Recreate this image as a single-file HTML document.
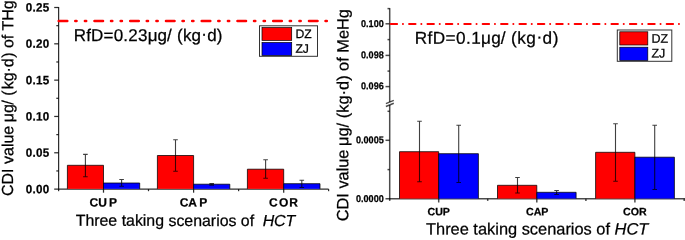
<!DOCTYPE html>
<html lang="en"><head><meta charset="utf-8"><title>CDI value of THg and MeHg</title>
<style>html,body{margin:0;padding:0;background:#fff;overflow:hidden}svg{display:block}text{font-family:'Liberation Sans', Arial, sans-serif;fill:#000;stroke:#000;stroke-width:.25px}.b{font-weight:bold}.ax{stroke:#000;stroke-opacity:.82;stroke-width:1.25;fill:none}.rp .ax{stroke-opacity:.7;stroke-width:1.5}.r{fill:#f00;stroke:#000;stroke-width:.7}.u{fill:#00f;stroke:#000;stroke-width:.7}.o{stroke:#000;stroke-width:.75;fill:none}.e{stroke:#000;stroke-opacity:.75;stroke-width:1.1;fill:none}</style></head><body>
<svg width="685" height="240" viewBox="0 0 685 240">
<rect width="685" height="240" fill="#fff"/>
<line class="ax" x1="54.20" y1="189.10" x2="328.60" y2="189.10"/>
<rect fill="#f00" x="67.40" y="165.30" width="36.10" height="23.55"/>
<path class="o" d="M67.40 188.85V165.30H103.50V188.85"/>
<rect fill="#00f" x="103.50" y="183.00" width="36.20" height="5.85"/>
<path class="o" d="M103.50 188.85V183.00H139.70V188.85"/>
<rect fill="#f00" x="157.40" y="155.50" width="36.20" height="33.35"/>
<path class="o" d="M157.40 188.85V155.50H193.60V188.85"/>
<rect fill="#00f" x="193.60" y="184.20" width="36.20" height="4.65"/>
<path class="o" d="M193.60 188.85V184.20H229.80V188.85"/>
<rect fill="#f00" x="247.40" y="169.20" width="36.30" height="19.65"/>
<path class="o" d="M247.40 188.85V169.20H283.70V188.85"/>
<rect fill="#00f" x="283.70" y="183.70" width="36.30" height="5.15"/>
<path class="o" d="M283.70 188.85V183.70H320.00V188.85"/>
<path class="e" d="M85.40 154.40V176.70M83.10 154.40H87.70M83.10 176.70H87.70"/>
<path class="e" d="M121.60 179.50V186.30M119.30 179.50H123.90M119.30 186.30H123.90"/>
<path class="e" d="M175.50 139.70V171.30M173.20 139.70H177.80M173.20 171.30H177.80"/>
<path class="e" d="M211.70 183.60V185.10M209.40 183.60H214.00M209.40 185.10H214.00"/>
<path class="e" d="M265.60 159.70V178.30M263.30 159.70H267.90M263.30 178.30H267.90"/>
<path class="e" d="M301.80 180.30V187.50M299.50 180.30H304.10M299.50 187.50H304.10"/>
<line class="ax" x1="58.60" y1="7.00" x2="58.60" y2="189.60"/>
<line class="ax" x1="54.20" y1="7.50" x2="58.60" y2="7.50"/>
<line class="ax" x1="56.30" y1="25.66" x2="58.60" y2="25.66"/>
<text transform="translate(49.40 11.55) rotate(0.05) scale(0.96 1)" font-size="12.1" class="b" text-anchor="end" letter-spacing="0.3" stroke-width="0.1">0.25</text>
<line class="ax" x1="54.20" y1="43.82" x2="58.60" y2="43.82"/>
<line class="ax" x1="56.30" y1="61.98" x2="58.60" y2="61.98"/>
<text transform="translate(49.40 47.87) rotate(0.05) scale(0.96 1)" font-size="12.1" class="b" text-anchor="end" letter-spacing="0.3" stroke-width="0.1">0.20</text>
<line class="ax" x1="54.20" y1="80.14" x2="58.60" y2="80.14"/>
<line class="ax" x1="56.30" y1="98.30" x2="58.60" y2="98.30"/>
<text transform="translate(49.40 84.19) rotate(0.05) scale(0.96 1)" font-size="12.1" class="b" text-anchor="end" letter-spacing="0.3" stroke-width="0.1">0.15</text>
<line class="ax" x1="54.20" y1="116.46" x2="58.60" y2="116.46"/>
<line class="ax" x1="56.30" y1="134.62" x2="58.60" y2="134.62"/>
<text transform="translate(49.40 120.51) rotate(0.05) scale(0.96 1)" font-size="12.1" class="b" text-anchor="end" letter-spacing="0.3" stroke-width="0.1">0.10</text>
<line class="ax" x1="54.20" y1="152.78" x2="58.60" y2="152.78"/>
<line class="ax" x1="56.30" y1="170.94" x2="58.60" y2="170.94"/>
<text transform="translate(49.40 156.83) rotate(0.05) scale(0.96 1)" font-size="12.1" class="b" text-anchor="end" letter-spacing="0.3" stroke-width="0.1">0.05</text>
<text transform="translate(49.40 193.15) rotate(0.05) scale(0.96 1)" font-size="12.1" class="b" text-anchor="end" letter-spacing="0.3" stroke-width="0.1">0.00</text>
<line class="ax" x1="103.50" y1="189.10" x2="103.50" y2="192.70"/>
<line class="ax" x1="193.60" y1="189.10" x2="193.60" y2="192.70"/>
<line class="ax" x1="283.70" y1="189.10" x2="283.70" y2="192.70"/>
<line class="ax" x1="58.60" y1="189.10" x2="58.60" y2="191.20"/>
<line class="ax" x1="148.50" y1="189.10" x2="148.50" y2="191.20"/>
<line class="ax" x1="238.60" y1="189.10" x2="238.60" y2="191.20"/>
<line class="ax" x1="328.60" y1="189.10" x2="328.60" y2="191.20"/>
<line x1="58.7" y1="21.05" x2="327" y2="21.05" stroke="#f00" stroke-width="2.5" stroke-linecap="round" stroke-dasharray="8.6 7.95 1.3 8.35 1.3 8.25"/>
<text transform="translate(73.70 41.00) rotate(0.05)" font-size="17"><tspan x="0.00" letter-spacing="0.2">RfD=0.23</tspan><tspan x="74.00">μg/ </tspan><tspan x="103.30" letter-spacing="0.22">(kg<tspan dy="-1.5">·</tspan><tspan dy="1.5">d)</tspan></tspan></text>
<rect x="259.5" y="25.8" width="58" height="30.5" fill="#fff" stroke="#333" stroke-width="1"/>
<rect class="r" x="262" y="27.6" width="29.7" height="12.8"/>
<rect class="u" x="262" y="42.5" width="29.7" height="12.9"/>
<text transform="translate(295.40 38.00) rotate(0.05)" font-size="12.2" text-anchor="start">DZ</text>
<text transform="translate(295.40 52.70) rotate(0.05)" font-size="12.2" text-anchor="start">ZJ</text>
<text transform="translate(89.5 206.6) rotate(0.05)" x="0.0 8.7 19.5" font-size="12" class="b">CUP</text>
<text transform="translate(179.8 206.6) rotate(0.05)" x="0.0 8.5 19.4" font-size="12" class="b">CAP</text>
<text transform="translate(269.1 206.6) rotate(0.05)" x="0.0 10.0 20.2" font-size="12" class="b">COR</text>
<text transform="translate(75.7 225.8) rotate(0.05)" font-size="15.9">Three taking scenarios of <tspan dx="4.1" font-style="italic">HCT</tspan></text>
<text transform="translate(13.1 196) rotate(-89.95)" font-size="16">CDI value <tspan dx="-0.9">μg</tspan><tspan dx="-0.6">/ (</tspan><tspan dx="1.1">kg·d</tspan><tspan dx="0.4">) of THg</tspan></text>
<g class="rp">
<line class="ax" x1="385.50" y1="198.80" x2="685.00" y2="198.80"/>
<rect fill="#f00" x="399.50" y="151.70" width="39.20" height="46.85"/>
<path class="o" d="M399.50 198.55V151.70H438.70V198.55"/>
<rect fill="#00f" x="438.70" y="153.70" width="39.70" height="44.85"/>
<path class="o" d="M438.70 198.55V153.70H478.40V198.55"/>
<rect fill="#f00" x="497.50" y="185.30" width="39.30" height="13.25"/>
<path class="o" d="M497.50 198.55V185.30H536.80V198.55"/>
<rect fill="#00f" x="536.80" y="192.30" width="39.30" height="6.25"/>
<path class="o" d="M536.80 198.55V192.30H576.10V198.55"/>
<rect fill="#f00" x="595.60" y="152.30" width="39.30" height="46.25"/>
<path class="o" d="M595.60 198.55V152.30H634.90V198.55"/>
<rect fill="#00f" x="634.90" y="157.20" width="39.50" height="41.35"/>
<path class="o" d="M634.90 198.55V157.20H674.40V198.55"/>
<path class="e" d="M419.50 121.30V181.70M417.20 121.30H421.80M417.20 181.70H421.80"/>
<path class="e" d="M458.70 125.30V182.50M456.40 125.30H461.00M456.40 182.50H461.00"/>
<path class="e" d="M517.50 177.50V193.00M515.20 177.50H519.80M515.20 193.00H519.80"/>
<path class="e" d="M556.60 190.50V194.50M554.30 190.50H558.90M554.30 194.50H558.90"/>
<path class="e" d="M615.50 123.70V181.30M613.20 123.70H617.80M613.20 181.30H617.80"/>
<path class="e" d="M654.70 125.30V189.50M652.40 125.30H657.00M652.40 189.50H657.00"/>
<line class="ax" x1="389.70" y1="8.10" x2="389.70" y2="102.00"/>
<line class="ax" x1="389.70" y1="105.00" x2="389.70" y2="199.30"/>
<line class="ax" x1="385.90" y1="103.60" x2="393.80" y2="100.40"/>
<line class="ax" x1="385.90" y1="106.50" x2="393.80" y2="103.30"/>
<line class="ax" x1="385.50" y1="23.80" x2="389.70" y2="23.80"/>
<text transform="translate(383.80 26.90) rotate(0.05) scale(0.92 1)" font-size="9.9" class="b" text-anchor="end" stroke="none">0.100</text>
<line class="ax" x1="385.50" y1="55.40" x2="389.70" y2="55.40"/>
<text transform="translate(383.80 58.20) rotate(0.05) scale(0.92 1)" font-size="9.9" class="b" text-anchor="end" stroke="none">0.098</text>
<line class="ax" x1="385.50" y1="86.60" x2="389.70" y2="86.60"/>
<text transform="translate(383.80 89.30) rotate(0.05) scale(0.92 1)" font-size="9.9" class="b" text-anchor="end" stroke="none">0.096</text>
<line class="ax" x1="385.50" y1="140.30" x2="389.70" y2="140.30"/>
<text transform="translate(383.80 143.35) rotate(0.05) scale(0.92 1)" font-size="9.9" class="b" text-anchor="end" stroke="none">0.0005</text>
<text transform="translate(383.80 202.00) rotate(0.05) scale(0.92 1)" font-size="9.9" class="b" text-anchor="end" stroke="none">0.0000</text>
<line class="ax" x1="387.50" y1="8.60" x2="389.70" y2="8.60"/>
<line class="ax" x1="387.50" y1="39.60" x2="389.70" y2="39.60"/>
<line class="ax" x1="387.50" y1="71.10" x2="389.70" y2="71.10"/>
<line class="ax" x1="387.50" y1="111.30" x2="389.70" y2="111.30"/>
<line class="ax" x1="387.50" y1="169.60" x2="389.70" y2="169.60"/>
<line class="ax" x1="438.70" y1="198.80" x2="438.70" y2="202.50"/>
<line class="ax" x1="536.80" y1="198.80" x2="536.80" y2="202.50"/>
<line class="ax" x1="634.90" y1="198.80" x2="634.90" y2="202.50"/>
<line class="ax" x1="389.70" y1="198.80" x2="389.70" y2="200.90"/>
<line class="ax" x1="487.70" y1="198.80" x2="487.70" y2="200.90"/>
<line class="ax" x1="585.90" y1="198.80" x2="585.90" y2="200.90"/>
<line class="ax" x1="684.20" y1="198.80" x2="684.20" y2="200.90"/>
<line x1="390.7" y1="23.9" x2="679.5" y2="23.9" stroke="#f00" stroke-width="2.05" stroke-linecap="round" stroke-dasharray="6.4 5.85 0.01 6.14"/>
<text transform="translate(414.70 43.75) rotate(0.05)" font-size="17.2"><tspan x="0.00" letter-spacing="0.42">RfD=0.1</tspan><tspan x="66.40" letter-spacing="0.15">μg/ </tspan><tspan x="96.30" letter-spacing="0.5">(kg<tspan dy="-1.5">·</tspan><tspan dy="1.5">d)</tspan></tspan></text>
<rect x="617.3" y="30" width="54.5" height="31.3" fill="#fff" stroke="#333" stroke-width="1"/>
<rect class="r" x="619.8" y="31.8" width="28" height="13.2"/>
<rect class="u" x="619.8" y="47.2" width="28" height="13.2"/>
<text transform="translate(651.40 42.70) rotate(0.05)" font-size="12.5" text-anchor="start">DZ</text>
<text transform="translate(651.40 57.60) rotate(0.05)" font-size="12.5" text-anchor="start">ZJ</text>
<text transform="translate(438.70 215.35) rotate(0.05) scale(0.995 1)" font-size="10.7" class="b" text-anchor="middle">CUP</text>
<text transform="translate(537.20 215.35) rotate(0.05) scale(0.995 1)" font-size="10.7" class="b" text-anchor="middle">CAP</text>
<text transform="translate(634.85 215.35) rotate(0.05) scale(0.995 1)" font-size="10.7" class="b" text-anchor="middle">COR</text>
<text transform="translate(426 234.4) rotate(0.05)" font-size="16.4">Three taking scenarios of <tspan font-style="italic">HCT</tspan></text>
<text transform="translate(348.3 221.3) rotate(-89.95)" font-size="16.35">CDI value <tspan dx="-0.9">μg/ (</tspan><tspan dx="0.2">kg·d) of MeHg</tspan></text>
</g>
</svg></body></html>
